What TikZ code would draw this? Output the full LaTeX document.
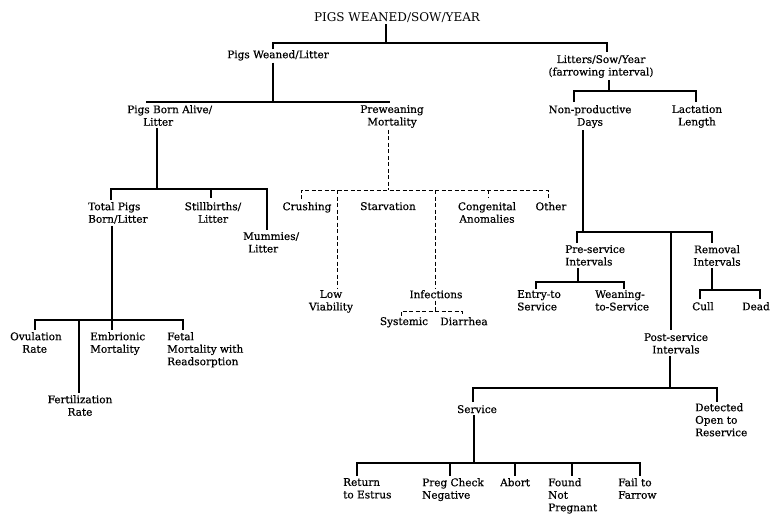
\documentclass[tikz,border=0pt]{standalone}
\usepackage{fontspec}
\setmainfont{DejaVu Serif}
\newfontfamily\bodyfont{DejaVu Serif}[FakeBold=0.5]
\begin{document}
\begin{tikzpicture}[x=1pt,y=-1pt,
  tree/.style={line width=1.6pt},
  dsh/.style={line width=1pt, dash pattern=on 4pt off 2.5pt},
  txt/.style={inner sep=0pt, font=\bodyfont\fontsize{10.5}{12.5}\selectfont, align=center, anchor=north},
  lt/.style={txt, align=left, anchor=north west}]
\fill[white] (0,0) rectangle (770,517);
\useasboundingbox (0,0) rectangle (770,517);
% nodes
\node[txt, font=\normalfont\fontsize{12}{14}\selectfont] (title) at (397,12) {PIGS WEANED/SOW/YEAR};
\node[txt] (pwl) at (278,50) {Pigs Weaned/Litter};
\node[txt] (lsy) at (601,55) {Litters/Sow/Year\\(farrowing interval)};
\node[lt] (pba) at (127,105) {Pigs Born Alive/\\\hspace*{16pt}Litter};
\node[txt] (pm) at (392,105) {Preweaning\\Mortality};
\node[txt] (npd) at (590,105) {Non-productive\\Days};
\node[txt] (ll) at (697,105) {Lactation\\Length};
\node[lt] (tpb) at (88,202) {Total Pigs\\Born/Litter};
\node[txt] (sb) at (213,202) {Stillbirths/\\Litter};
\node[lt] (mum) at (243,232) {Mummies/\\\hspace*{5pt}Litter};
\node[txt] (cru) at (307,202) {Crushing};
\node[txt] (sta) at (388,202) {Starvation};
\node[txt] (ca) at (487,202) {Congenital\\Anomalies};
\node[txt] (oth) at (551,202) {Other};
\node[txt] (lv) at (331,290) {Low\\Viability};
\node[txt] (inf) at (436,290) {Infections};
\node[txt] (sys) at (404,317) {Systemic};
\node[txt] (dia) at (464,317) {Diarrhea};
\node[lt] (ps) at (565,245) {Pre-service\\Intervals};
\node[txt] (ri) at (717,245) {Removal\\Intervals};
\node[lt] (ets) at (517,290) {Entry-to\\Service};
\node[lt] (wts) at (595,290) {Weaning-\\to-Service};
\node[txt] (cull) at (703,302) {Cull};
\node[lt] (dead) at (742,302) {Dead};
\node[txt] (posts) at (676,333) {Post-service\\Intervals};
\node[lt] (ovr) at (10,332) {Ovulation\\\hspace*{12pt}Rate};
\node[lt] (em) at (90,332) {Embrionic\\Mortality};
\node[lt] (fm) at (167,332) {Fetal\\Mortality with\\Readsorption};
\node[txt] (fr) at (80,395) {Fertilization\\Rate};
\node[txt] (ser) at (477,405) {Service};
\node[lt] (dor) at (695,403) {Detected\\Open to\\Reservice};
\node[lt] (rte) at (343,478) {Return\\to Estrus};
\node[lt] (pcn) at (422,478) {Preg Check\\Negative};
\node[lt] (abo) at (500,478) {Abort};
\node[lt] (fnp) at (548,478) {Found\\Not\\Pregnant};
\node[lt] (ftf) at (618,478) {Fail to\\Farrow};
% junction coordinates
\coordinate (j0) at (386,43); \coordinate (b0l) at (273,43); \coordinate (b0r) at (607,43);
\coordinate (j1) at (273,102); \coordinate (b1l) at (147,102); \coordinate (b1r) at (389,102);
\coordinate (j2) at (157,189); \coordinate (b2l) at (111,189); \coordinate (b2r) at (267,189); \coordinate (t2) at (211,189);
\coordinate (j3) at (112,320); \coordinate (b3l) at (35,320); \coordinate (b3r) at (183,320); \coordinate (t3) at (79,320);
\coordinate (j4) at (388,190); \coordinate (b4l) at (301,190); \coordinate (b4r) at (548,190);
\coordinate (t4a) at (337,190); \coordinate (t4b) at (435,190); \coordinate (t4c) at (488,190);
\coordinate (j5) at (435,311); \coordinate (b5l) at (401,311); \coordinate (b5r) at (462,311);
\coordinate (j6) at (609,91); \coordinate (b6l) at (574,91); \coordinate (b6r) at (696,91);
\coordinate (j7) at (583,232); \coordinate (b7l) at (577,232); \coordinate (b7r) at (712,232); \coordinate (t7) at (671,232);
\coordinate (j8) at (578,282); \coordinate (b8l) at (536,282); \coordinate (b8r) at (624,282);
\coordinate (j9) at (712,290); \coordinate (b9l) at (700,290); \coordinate (b9r) at (760,290);
\coordinate (j10) at (670,388); \coordinate (b10l) at (473,388); \coordinate (b10r) at (717,388);
\coordinate (j11) at (474,463); \coordinate (b11l) at (357,463); \coordinate (b11r) at (640,463);
\coordinate (t11a) at (450,463); \coordinate (t11b) at (515,463); \coordinate (t11c) at (572,463);
% connectors
\draw[tree, shorten <=2pt] (title.south -| j0) -- (j0);
\draw[tree, shorten <=1pt, shorten >=3pt] (b0l |- pwl.north) -- (b0l) -- (b0r) -- (b0r |- lsy.north);
\draw[tree, shorten <=2pt] (j1 |- pwl.south) -- (j1);
\draw[tree, shorten <=2pt, shorten >=2pt] (b1l |- pba.north) -- (b1l) -- (b1r) -- (b1r |- pm.north);
\draw[tree, shorten <=2pt] (j2 |- pba.south) -- (j2);
\draw[tree, shorten <=2pt, shorten >=2pt] (b2l |- tpb.north) -- (b2l) -- (b2r) -- (b2r |- mum.north);
\draw[tree, shorten >=4pt] (t2) -- (t2 |- sb.north);
\draw[tree, shorten <=2pt, shorten >=2pt] (j3 |- tpb.south) -- (j3 |- em.north);
\draw[tree, shorten <=2pt, shorten >=2pt] (b3l |- ovr.north) -- (b3l) -- (b3r) -- (b3r |- fm.north);
\draw[tree, shorten >=2pt] (t3) -- (t3 |- fr.north);
\draw[dsh, shorten <=2pt] (j4 |- pm.south) -- (j4);
\draw[dsh, shorten <=3pt, shorten >=3pt] (b4l |- cru.north) -- (b4l) -- (b4r) -- (b4r |- oth.north);
\draw[dsh, shorten >=2pt] (t4a) -- (t4a |- lv.north);
\draw[dsh, shorten >=2pt] (t4b) -- (t4b |- inf.north);
\draw[dsh, shorten >=4pt] (t4c) -- (t4c |- ca.north);
\draw[dsh, shorten <=2pt] (j5 |- inf.south) -- (j5);
\draw[dsh, shorten <=1pt, shorten >=1pt] (b5l |- sys.north) -- (b5l) -- (b5r) -- (b5r |- dia.north);
\draw[tree, shorten <=2pt] (j6 |- lsy.south) -- (j6);
\draw[tree, shorten <=3pt, shorten >=3pt] (b6l |- npd.north) -- (b6l) -- (b6r) -- (b6r |- ll.north);
\draw[tree, shorten <=2pt] (j7 |- npd.south) -- (j7);
\draw[tree, shorten <=2pt, shorten >=2pt] (b7l |- ps.north) -- (b7l) -- (b7r) -- (b7r |- ri.north);
\draw[tree, shorten >=3pt] (t7) -- (t7 |- posts.north);
\draw[tree, shorten <=2pt] (j8 |- ps.south) -- (j8);
\draw[tree, shorten <=1pt, shorten >=1pt] (b8l |- ets.north) -- (b8l) -- (b8r) -- (b8r |- wts.north);
\draw[tree, shorten <=2pt] (j9 |- ri.south) -- (j9);
\draw[tree, shorten <=3pt, shorten >=3pt] (b9l |- cull.north) -- (b9l) -- (b9r) -- (b9r |- dead.north);
\draw[tree, shorten <=2pt] (j10 |- posts.south) -- (j10);
\draw[tree, shorten <=3pt, shorten >=1pt] (b10l |- ser.north) -- (b10l) -- (b10r) -- (b10r |- dor.north);
\draw[tree, shorten <=2pt] (j11 |- ser.south) -- (j11);
\draw[tree, shorten <=2pt, shorten >=2pt] (b11l |- rte.north) -- (b11l) -- (b11r) -- (b11r |- ftf.north);
\draw[tree, shorten >=2pt] (t11a) -- (t11a |- pcn.north);
\draw[tree, shorten >=2pt] (t11b) -- (t11b |- abo.north);
\draw[tree, shorten >=2pt] (t11c) -- (t11c |- fnp.north);
\end{tikzpicture}
\end{document}
